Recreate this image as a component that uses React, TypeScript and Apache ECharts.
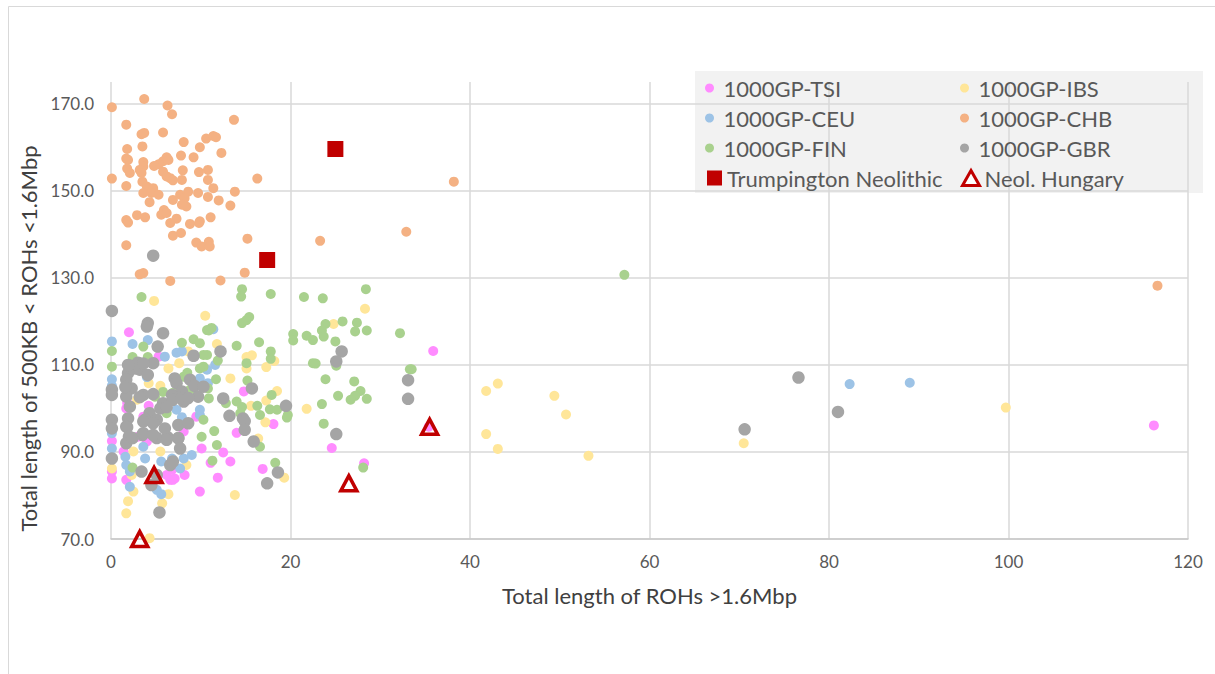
import React, { useEffect, useRef } from "react";
import * as echarts from "echarts";

const X_MIN = 0;
const X_MAX = 120;
const X_STEP = 20;
const Y_MIN = 70;
const Y_MAX = 175;
const Y_STEP = 20;

const X_TITLE = "Total length of ROHs >1.6Mbp";
const Y_TITLE = "Total length of 500KB < ROHs <1.6Mbp";

const SERIES_NAMES = [
  "1000GP-TSI",
  "1000GP-IBS",
  "1000GP-CEU",
  "1000GP-CHB",
  "1000GP-FIN",
  "1000GP-GBR",
  "Trumpington Neolithic",
  "Neol. Hungary",
];

const TSI = [
  [2.0, 117.5], [5.3, 111.9], [14.8, 103.9], [4.2, 100.6], [1.7, 100.0], [3.6, 98.1], [9.5, 98.1],
  [18.1, 96.4], [14.0, 94.4], [12.5, 89.9], [13.3, 87.8], [11.1, 87.5], [11.9, 84.1], [16.9, 86.1],
  [0.1, 92.5], [0.1, 83.9], [0.1, 85.5], [1.7, 83.6], [1.4, 90.1], [9.9, 80.9], [10.1, 90.8],
  [8.2, 84.7], [7.1, 83.9], [6.6, 83.6], [6.2, 84.7], [4.0, 92.4], [3.0, 93.5], [8.1, 94.7],
  [6.8, 85.9], [6.9, 83.6], [1.8, 101.3], [35.9, 113.2], [24.6, 90.9], [28.2, 87.4], [35.4, 95.8],
  [116.2, 96.1],
];

const IBS = [
  [4.8, 124.7], [10.5, 121.3], [11.8, 114.8], [15.7, 112.2], [15.1, 111.8], [18.2, 110.9], [17.3, 109.5],
  [15.1, 109.2], [13.3, 106.9], [18.5, 104.0], [17.3, 101.8], [15.6, 100.6], [21.8, 99.9], [17.2, 96.8],
  [16.4, 93.1], [19.3, 84.1], [13.8, 80.1], [8.6, 113.1], [7.6, 110.4], [6.4, 109.2], [4.2, 105.8],
  [5.5, 105.2], [2.9, 102.0], [0.1, 86.2], [2.5, 80.9], [1.9, 78.7], [1.7, 75.9], [6.4, 80.3],
  [5.7, 78.2], [4.3, 70.2], [2.5, 90.1], [5.5, 90.1], [8.4, 87.0], [2.3, 84.7], [28.3, 122.9],
  [24.8, 119.4], [41.8, 104.0], [43.1, 105.7], [49.4, 102.9], [50.7, 98.6], [41.8, 94.1], [43.1, 90.7],
  [53.2, 89.1], [70.5, 92.0], [99.7, 100.2],
];

const CEU = [
  [0.1, 115.4], [2.4, 114.8], [4.1, 115.7], [7.3, 112.8], [7.9, 113.1], [6.0, 111.9], [9.9, 106.9],
  [10.7, 108.9], [2.1, 104.3], [7.3, 99.7], [9.9, 98.5], [0.1, 106.7], [0.1, 105.2], [0.1, 94.3],
  [0.1, 90.8], [1.6, 88.9], [1.7, 87.0], [2.1, 85.5], [2.1, 82.0], [3.6, 91.2], [3.8, 88.5],
  [5.6, 87.8], [6.8, 88.5], [7.7, 86.2], [5.1, 81.3], [5.6, 80.3], [8.1, 88.5], [11.4, 118.2],
  [11.6, 110.0], [10.8, 105.8], [9.0, 89.3], [9.9, 99.7], [4.0, 107.2], [7.9, 98.0], [82.3, 105.6],
  [89.0, 105.9],
];

const CHB = [
  [0.1, 169.2], [3.7, 171.1], [6.3, 169.6], [6.8, 167.6], [1.7, 165.2], [13.7, 166.3], [5.8, 163.4],
  [3.4, 163.0], [3.7, 163.3], [10.6, 162.0], [11.4, 162.6], [11.7, 162.3], [8.1, 161.2], [3.5, 160.2],
  [1.8, 159.6], [9.9, 160.0], [12.3, 158.7], [7.8, 158.1], [9.2, 157.7], [1.7, 157.4], [1.9, 157.1],
  [6.2, 157.7], [5.8, 156.8], [3.6, 156.6], [5.3, 156.1], [4.8, 155.7], [6.4, 157.1], [3.6, 155.6],
  [1.8, 155.1], [2.1, 154.1], [3.2, 154.8], [3.4, 154.1], [8.0, 154.7], [9.8, 154.3], [10.8, 154.8],
  [5.8, 154.4], [6.2, 153.3], [6.6, 152.9], [6.9, 152.4], [7.9, 152.5], [0.1, 152.8], [16.3, 152.8],
  [1.7, 151.1], [3.5, 152.1], [4.0, 151.0], [4.7, 150.6], [10.8, 152.5], [11.4, 150.6], [13.8, 149.8],
  [3.6, 149.5], [4.5, 149.5], [5.3, 149.1], [8.6, 149.8], [9.7, 149.5], [7.7, 149.1], [8.2, 148.3],
  [10.8, 148.6], [12.0, 147.8], [4.3, 147.4], [6.9, 147.9], [7.9, 146.8], [8.4, 146.4], [13.3, 146.6],
  [5.9, 145.6], [5.6, 144.5], [2.9, 144.4], [3.8, 143.9], [6.2, 144.9], [7.3, 143.6], [1.7, 143.3],
  [1.9, 142.7], [6.6, 142.6], [11.1, 143.9], [9.9, 143.0], [8.8, 142.4], [9.8, 142.6], [6.9, 139.7],
  [7.8, 140.3], [15.2, 139.0], [9.5, 138.1], [1.7, 137.5], [10.1, 137.2], [10.9, 138.3], [11.0, 137.2],
  [3.2, 130.8], [3.6, 131.1], [6.6, 129.3], [12.2, 129.4], [14.9, 131.2], [23.3, 138.5], [32.9, 140.6],
  [38.2, 152.1], [116.6, 128.2],
];

const FIN = [
  [3.4, 125.6], [10.7, 118.0], [0.1, 113.2], [3.6, 114.2], [9.2, 115.9], [9.9, 115.0], [0.1, 109.6],
  [10.3, 109.6], [9.9, 109.2], [8.1, 107.3], [8.8, 104.3], [10.8, 104.6], [4.9, 102.7], [6.2, 98.9],
  [14.6, 127.4], [14.5, 125.7], [17.8, 126.3], [21.5, 125.6], [14.6, 119.6], [15.1, 120.3], [15.4, 121.0],
  [20.3, 117.1], [20.3, 115.6], [21.8, 116.7], [22.5, 115.7], [10.9, 117.9], [14.0, 114.4], [16.5, 115.2],
  [17.8, 113.1], [17.8, 111.4], [15.1, 110.4], [22.5, 110.4], [10.7, 112.3], [11.9, 111.0], [11.7, 106.7],
  [15.2, 106.4], [17.9, 103.1], [14.0, 101.6], [10.9, 102.3], [12.8, 101.2], [14.6, 100.3], [16.3, 100.6],
  [17.7, 99.8], [18.5, 99.7], [19.7, 98.5], [16.6, 98.5], [14.4, 98.9], [19.6, 97.9], [16.6, 91.2],
  [11.5, 94.8], [11.8, 91.6], [11.3, 88.0], [18.3, 87.5], [2.4, 86.4], [10.1, 93.5], [10.3, 97.4],
  [11.2, 118.5], [10.3, 112.3], [6.9, 103.6], [5.8, 103.8], [4.1, 111.8], [2.4, 111.8], [8.5, 108.2],
  [7.9, 115.1], [57.2, 130.7], [23.6, 125.3], [28.4, 127.4], [23.9, 119.4], [25.8, 120.0], [27.4, 119.7],
  [23.5, 117.9], [27.2, 117.7], [28.5, 117.9], [32.2, 117.3], [23.7, 116.5], [25.0, 115.4], [25.1, 109.8],
  [22.8, 110.3], [33.3, 109.0], [33.5, 109.0], [23.9, 106.7], [27.1, 106.2], [27.8, 104.0], [27.2, 102.9],
  [26.7, 102.0], [28.5, 102.2], [25.3, 102.9], [23.5, 101.0], [23.7, 96.5], [28.1, 86.4],
];

const GBR = [
  [0.1, 122.4], [4.7, 135.1], [4.1, 119.6], [4.0, 118.8], [5.8, 117.3], [5.2, 114.2], [9.2, 112.1],
  [4.7, 110.4], [2.1, 109.8], [2.7, 109.2], [3.2, 108.9], [1.9, 108.1], [1.7, 106.6], [4.1, 107.7],
  [3.0, 110.5], [1.9, 110.0], [3.6, 110.3], [7.1, 106.9], [7.3, 105.8], [8.8, 106.6], [9.3, 105.2],
  [7.9, 103.9], [6.8, 103.1], [5.8, 101.2], [3.6, 103.1], [2.3, 104.6], [1.7, 102.7], [2.1, 100.4],
  [4.3, 98.9], [5.5, 100.0], [8.1, 101.6], [9.7, 102.7], [10.3, 105.0], [3.2, 102.6], [4.7, 103.3],
  [6.2, 100.3], [6.9, 102.0], [7.9, 102.4], [8.6, 102.4], [1.6, 104.9], [0.1, 104.3], [0.1, 103.1],
  [0.1, 97.4], [0.1, 95.4], [0.1, 88.5], [1.9, 97.7], [1.7, 95.8], [1.8, 95.7], [2.0, 93.5], [1.7, 92.0],
  [2.4, 93.2], [3.5, 93.9], [5.1, 93.2], [6.3, 93.4], [7.5, 93.2], [3.8, 97.4], [5.1, 97.4],
  [3.6, 97.0], [4.7, 96.6], [3.6, 94.3], [4.7, 93.9], [6.0, 95.4], [7.5, 96.2], [8.6, 96.6],
  [6.2, 92.8], [7.5, 93.1], [7.7, 90.8], [6.6, 87.0], [6.9, 87.8], [3.4, 85.5], [4.5, 82.4],
  [5.4, 76.1], [5.1, 84.7], [12.2, 113.1], [15.7, 104.6], [12.5, 102.3], [19.5, 100.6], [13.2, 98.3],
  [14.7, 97.7], [14.9, 97.1], [14.9, 95.1], [15.9, 92.4], [18.6, 85.3], [17.4, 82.8], [25.7, 113.1],
  [25.1, 110.8], [33.1, 106.5], [33.1, 102.2], [25.1, 94.1], [76.6, 107.1], [70.6, 95.2], [81.0, 99.2],
];

const TRUMPINGTON = [
  [17.4, 134.1],
  [25.0, 159.6],
];

const NEOL_HUNGARY = [
  [3.2, 70.0],
  [4.8, 84.7],
  [35.5, 95.8],
  [26.5, 82.8],
];

const COLORS = {
  tsi: "#FF8CFF",
  ibs: "#FFE699",
  ceu: "#9DC3E6",
  chb: "#F4B183",
  fin: "#A9D18E",
  gbr: "#A5A5A5",
  red: "#C00000",
};

const FONT = "Lato, 'Liberation Sans', sans-serif";

export default function App() {
  const ref = useRef<HTMLDivElement>(null);

  useEffect(() => {
    document.body.style.margin = "0";
    if (!ref.current) return;
    const chart = echarts.init(ref.current, null, { renderer: "svg" });

    const circleSeries = (name: string, data: number[][], color: string, size: number) => ({
      name,
      type: "scatter",
      data,
      symbol: "circle",
      symbolSize: size,
      itemStyle: { color, opacity: 1 },
      emphasis: { disabled: true },
      clip: false,
    });

    const legendText = { fontFamily: FONT, fontSize: 22, color: "#595959", lineHeight: 24 };
    const mkLegend = (data: any[], left: number, top: number, w: number, h: number) => ({
      data,
      left,
      top,
      itemWidth: w,
      itemHeight: h,
      padding: 0,
      itemGap: 0,
      selectedMode: false,
      textStyle: legendText,
    });

    chart.setOption({
      animation: false,
      tooltip: { show: false },
      grid: { left: 111, right: 27, top: 82, bottom: 135, containLabel: false },
      graphic: [
        {
          type: "rect",
          shape: { x: 8.5, y: 6.5, width: 1400, height: 900 },
          style: { fill: "none", stroke: "#d9d9d9", lineWidth: 1 },
          silent: true,
          z: -10,
        },
        {
          type: "rect",
          shape: { x: 695, y: 71, width: 508, height: 122 },
          style: { fill: "#f2f2f2" },
          silent: true,
          z: -5,
        },
      ],
      xAxis: {
        type: "value",
        min: X_MIN,
        max: X_MAX,
        interval: X_STEP,
        axisLine: { show: true, lineStyle: { color: "#c8c8c8", width: 1.5 } },
        axisTick: { show: false },
        splitLine: { show: true, lineStyle: { color: "#d9d9d9", width: 1.5 } },
        axisLabel: { color: "#595959", fontFamily: FONT, fontSize: 17, margin: 14 },
        name: X_TITLE,
        nameLocation: "middle",
        nameGap: 45,
        nameTextStyle: { color: "#404040", fontFamily: FONT, fontSize: 22 },
      },
      yAxis: {
        type: "value",
        min: Y_MIN,
        max: Y_MAX,
        interval: Y_STEP,
        axisLine: { show: false },
        axisTick: { show: false },
        splitLine: { show: true, showMaxLine: false, lineStyle: { color: "#d9d9d9", width: 1.5 } },
        axisLabel: {
          color: "#595959",
          fontFamily: FONT,
          fontSize: 17,
          margin: 17,
          showMaxLabel: false,
          formatter: (v: number) => (v === Y_MAX ? "" : v.toFixed(1)),
        },
        name: Y_TITLE,
        nameLocation: "middle",
        nameGap: 64,
        nameTextStyle: { color: "#404040", fontFamily: FONT, fontSize: 22, padding: [0, 56, 0, 0] },
      },
      legend: [
        mkLegend([SERIES_NAMES[0]], 705, 76, 18, 9),
        mkLegend([SERIES_NAMES[1]], 960, 76, 18, 9),
        mkLegend([SERIES_NAMES[2]], 705, 106, 18, 9),
        mkLegend([SERIES_NAMES[3]], 960, 106, 18, 9),
        mkLegend([SERIES_NAMES[4]], 705, 136, 18, 9),
        mkLegend([SERIES_NAMES[5]], 960, 136, 18, 9),
        mkLegend([SERIES_NAMES[6]], 707, 166, 15, 15),
        mkLegend(
          [{ name: SERIES_NAMES[7], itemStyle: { color: "#ffffff", borderColor: COLORS.red, borderWidth: 3 } }],
          961,
          166,
          17,
          15
        ),
      ],
      series: [
        circleSeries(SERIES_NAMES[0], TSI, COLORS.tsi, 10),
        circleSeries(SERIES_NAMES[1], IBS, COLORS.ibs, 10),
        circleSeries(SERIES_NAMES[2], CEU, COLORS.ceu, 10),
        circleSeries(SERIES_NAMES[3], CHB, COLORS.chb, 10),
        circleSeries(SERIES_NAMES[4], FIN, COLORS.fin, 10),
        circleSeries(SERIES_NAMES[5], GBR, COLORS.gbr, 12.5),
        {
          name: SERIES_NAMES[6],
          type: "scatter",
          data: TRUMPINGTON,
          symbol: "rect",
          symbolSize: 16,
          itemStyle: { color: COLORS.red, opacity: 1 },
          emphasis: { disabled: true },
          clip: false,
        },
        {
          name: SERIES_NAMES[7],
          type: "scatter",
          data: NEOL_HUNGARY,
          symbol: "triangle",
          symbolSize: [16, 15],
          itemStyle: { color: "rgba(255,255,255,0)", borderColor: COLORS.red, borderWidth: 3.5, opacity: 1 },
          emphasis: { disabled: true },
          clip: false,
        },
      ],
    });

    return () => chart.dispose();
  }, []);

  return (
    <div style={{ position: "fixed", left: 0, top: 0, width: 1215, height: 674 }}>
      <div ref={ref} style={{ width: 1215, height: 674, background: "#ffffff" }} />
    </div>
  );
}
